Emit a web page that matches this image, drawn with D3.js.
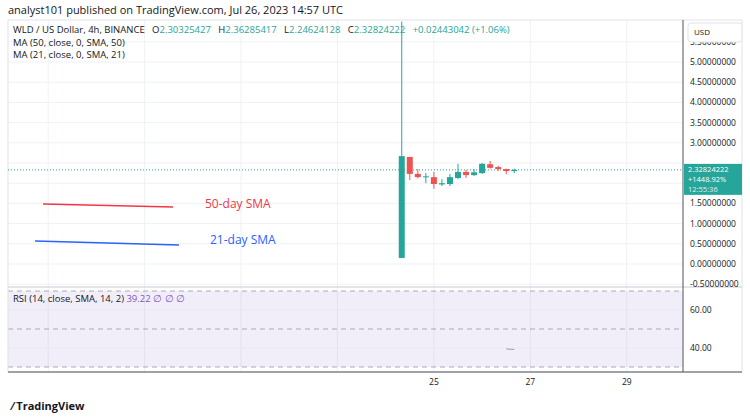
<!DOCTYPE html>
<html><head><meta charset="utf-8">
<script src="https://cdn.jsdelivr.net/npm/d3@7"></script>
<style>body{margin:0;background:#fff}svg{font-family:"Open Sans",sans-serif}</style>
</head><body>
<svg id="c" width="750" height="417"></svg>
<script>
// 4h candles from Jul 24 08:00
const opens  = [0.15,2.65,2.23,2.15,2.15,1.97,1.98,2.13,2.28,2.20,2.25,2.47,2.40,2.35,2.30];
const highs  = [6.00,2.65,2.35,2.25,2.28,2.10,2.23,2.48,2.33,2.35,2.50,2.55,2.43,2.36,2.36];
const lows   = [0.15,2.08,2.12,2.00,1.86,1.93,1.93,2.10,2.13,2.18,2.23,2.36,2.30,2.22,2.25];
const closes = [2.67,2.23,2.15,2.17,1.98,2.00,2.15,2.28,2.20,2.27,2.48,2.38,2.35,2.30,2.33];
const priceTicks = [-0.5,0,0.5,1,1.5,2,2.5,3,3.5,4,4.5,5,5.5];
const rsiTicks = [40,60];
const rsiVals = [39.5,39.22];
const dayTicks = [25,27,29];

const svg = d3.select("#c");
const L=8, R=683, T=20, P=287, B=372;
const t0 = new Date(2023,6,24,8);
const times = opens.map((d,i)=>new Date(+t0+i*4*3600e3));
const x = d3.scaleTime().domain([new Date(2023,6,16,4), new Date(2023,6,30,4)]).range([L,R]);
const y = d3.scaleLinear().domain([0,5]).range([264,62]);
const yr = d3.scaleLinear().domain([30,70]).range([367,291]);

svg.append("text").attr("x",8).attr("y",14).attr("font-size",11).attr("fill","#131722")
  .text("analyst101 published on TradingView.com, Jul 26, 2023 14:57 UTC");

svg.append("clipPath").attr("id","pc").append("rect").attr("x",L).attr("y",T).attr("width",R-L).attr("height",P-T);

// grids
const grid = svg.append("g").attr("stroke","#eef1f5");
priceTicks.forEach(v=>grid.append("line").attr("x1",L).attr("x2",R).attr("y1",y(v)).attr("y2",y(v)));
d3.range(17,31).forEach(d=>{const xx=x(new Date(2023,6,d)); if(d%2==1)[[T,P],[P,B]].forEach(s=>grid.append("line").attr("x1",xx).attr("x2",xx).attr("y1",s[0]).attr("y2",s[1]));});

// RSI band
svg.append("rect").attr("x",L).attr("y",yr(70)).attr("width",R-L).attr("height",yr(30)-yr(70)).attr("fill","#7e57c2").attr("opacity",0.1);
[70,50,30].forEach(v=>svg.append("line").attr("x1",L).attr("x2",R).attr("y1",yr(v)).attr("y2",yr(v))
  .attr("stroke","#787b86").attr("stroke-dasharray","5,4").attr("opacity",0.6));
rsiTicks.forEach(v=>svg.append("line").attr("x1",L).attr("x2",R).attr("y1",yr(v)).attr("y2",yr(v)).attr("stroke","#e8e8f0"));
svg.append("path").datum(rsiVals).attr("fill","none").attr("stroke","#9e9e9e").attr("stroke-width",1)
  .attr("d",d3.line().x((d,i)=>x(times[13+i])).y(d=>yr(d)));

// frame
svg.append("rect").attr("x",L).attr("y",T).attr("width",742-L).attr("height",B-T).attr("fill","none").attr("stroke","#e0e3eb");
svg.append("line").attr("x1",L).attr("x2",742).attr("y1",P).attr("y2",P).attr("stroke","#c8cad0");
svg.append("line").attr("x1",R).attr("x2",R).attr("y1",T).attr("y2",B).attr("stroke","#50535e");
svg.append("line").attr("x1",L).attr("x2",742).attr("y1",B).attr("y2",B).attr("stroke","#50535e");

// price line
const last = closes[closes.length-1];
svg.append("line").attr("x1",L).attr("x2",R).attr("y1",y(last)).attr("y2",y(last)).attr("stroke","#26a69a").attr("stroke-dasharray","1,2");

// candles
const cg = svg.append("g").attr("clip-path","url(#pc)");
times.forEach((t,i)=>{
  const c = closes[i]>=opens[i] ? "#26a69a" : "#ef5350";
  const xx = x(t);
  cg.append("line").attr("x1",xx).attr("x2",xx).attr("y1",y(highs[i])).attr("y2",y(lows[i])).attr("stroke",c);
  cg.append("rect").attr("x",xx-3).attr("width",6)
    .attr("y",y(Math.max(opens[i],closes[i]))).attr("height",Math.max(1,Math.abs(y(opens[i])-y(closes[i])))).attr("fill",c);
});

// legend
const lg = svg.append("g").attr("font-size",9.5).attr("fill","#131722");
const hdr = lg.append("text").attr("x",13).attr("y",33).attr("xml:space","preserve");
hdr.append("tspan").text("WLD / US Dollar, 4h, BINANCE   O");
hdr.append("tspan").attr("fill","#26a69a").text("2.30325427");
hdr.append("tspan").text("   H");
hdr.append("tspan").attr("fill","#26a69a").text("2.36285417");
hdr.append("tspan").text("   L");
hdr.append("tspan").attr("fill","#26a69a").text("2.24624128");
hdr.append("tspan").text("   C");
hdr.append("tspan").attr("fill","#26a69a").text("2.32824222   +0.02443042 (+1.06%)");
lg.append("text").attr("x",13).attr("y",46).text("MA (50, close, 0, SMA, 50)");
lg.append("text").attr("x",13).attr("y",58).text("MA (21, close, 0, SMA, 21)");
lg.append("text").attr("x",13).attr("y",302).text("RSI (14, close, SMA, 14, 2)  ").append("tspan").attr("fill","#7e57c2").text("39.22  ∅ ∅ ∅");

// annotations
svg.append("line").attr("x1",43).attr("x2",173).attr("y1",204).attr("y2",207).attr("stroke","#f23645").attr("stroke-width",1.5);
svg.append("text").attr("x",205).attr("y",208).attr("font-size",12).attr("fill","#f23645").text("50-day SMA");
svg.append("line").attr("x1",35).attr("x2",179).attr("y1",241).attr("y2",245).attr("stroke","#2962ff").attr("stroke-width",1.5);
svg.append("text").attr("x",210).attr("y",244).attr("font-size",12).attr("fill","#2962ff").text("21-day SMA");

// axes (labels hidden under the price tag are skipped)
const py = y(closes[closes.length-1]);
const ax = svg.append("g").attr("font-size",8.5).attr("fill","#131722");
priceTicks.filter(v=>Math.abs(y(v)-py)>12).forEach(v=>ax.append("text").attr("x",690).attr("y",y(v)+3).text(v.toFixed(8)));
rsiTicks.forEach(v=>ax.append("text").attr("x",690).attr("y",yr(v)+3).text(v.toFixed(2)));
dayTicks.forEach(d=>ax.append("text").attr("x",x(new Date(2023,6,d))).attr("y",385).attr("text-anchor","middle").text(d));

// USD box
svg.append("rect").attr("x",688).attr("y",23).attr("width",54).attr("height",19).attr("rx",3).attr("fill","#fff").attr("stroke","#e0e3eb");
svg.append("text").attr("x",694).attr("y",35).attr("font-size",8).attr("fill","#131722").text("USD");

// price label
svg.append("rect").attr("x",684).attr("y",py-6).attr("width",58).attr("height",31).attr("fill","#26a69a");
["2.32824222","+1448.92%","12:55:36"].forEach((s,i)=>svg.append("text").attr("x",688).attr("y",py+2+i*10)
  .attr("font-size",7.5).attr("fill","#fff").attr("opacity",i==2?0.85:1).text(s));

// logo
svg.append("text").attr("x",12).attr("y",410).attr("font-size",11).attr("font-weight","bold").attr("fill","#131722").text("⁄ TradingView");
</script>
</body></html>
